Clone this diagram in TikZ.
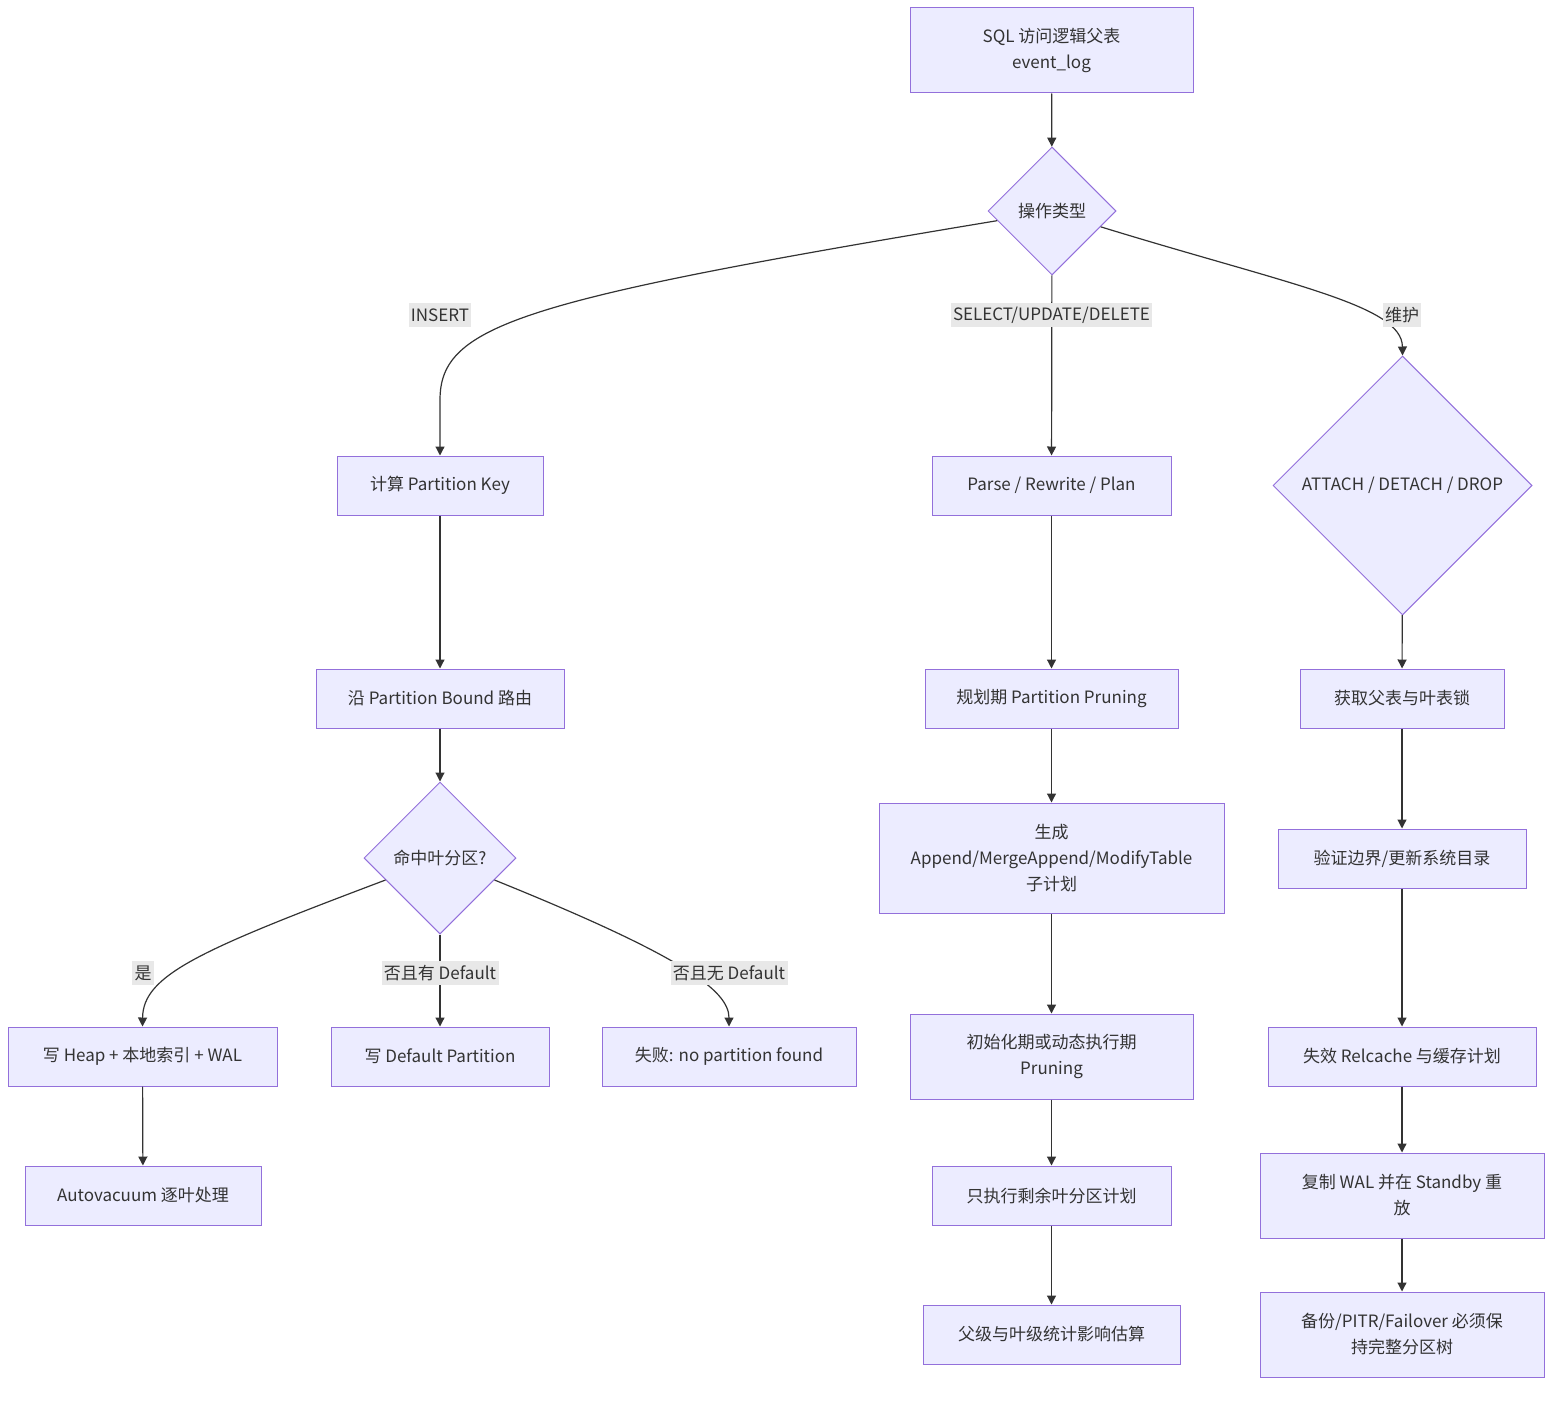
\documentclass[tikz,border=0pt]{standalone}
\usepackage{fontspec}
\setmainfont{Noto Sans CJK SC}
\usetikzlibrary{shapes.geometric,arrows.meta}
\definecolor{nfill}{HTML}{ECECFF}
\definecolor{nstroke}{HTML}{9370DB}
\definecolor{ntext}{HTML}{333333}
\definecolor{lbg}{HTML}{E8E8E8}
\begin{document}
\begin{tikzpicture}[x=0.5pt,y=-0.5pt,
  every node/.style={text=ntext,font=\fontsize{8.5}{13}\selectfont},
  box/.style={draw=nstroke,fill=nfill,line width=0.5pt,rectangle,align=center,inner sep=0pt},
  dia/.style={draw=nstroke,fill=nfill,line width=0.5pt,diamond,align=center,inner sep=0pt},
  lbl/.style={fill=lbg,inner sep=1.2pt,minimum height=12pt},
  edge/.style={draw=ntext,line width=0.6pt,-{Triangle[length=4.5pt,width=4.5pt]}}]
\useasboundingbox (0,0) rectangle (1568,1402);
% nodes
\node[box,minimum width=141.5pt,minimum height=42.5pt] (top) at (1051.5,50.5) {SQL 访问逻辑父表\\event\_log};
\node[dia,minimum width=64pt,minimum height=64pt] (op) at (1052,211) {操作类型};
\node[box,minimum width=103pt,minimum height=29.5pt] (key) at (440,485.5) {计算 Partition Key};
\node[box,minimum width=119.5pt,minimum height=29.5pt] (parse) at (1051.5,485.5) {Parse / Rewrite / Plan};
\node[dia,minimum width=129.5pt,minimum height=129.5pt] (att) at (1402.5,485.5) {ATTACH / DETACH / DROP};
\node[box,minimum width=124pt,minimum height=29.5pt] (route) at (440,698.5) {沿 Partition Bound 路由};
\node[box,minimum width=126.5pt,minimum height=29.5pt] (prune) at (1051.5,698.5) {规划期 Partition Pruning};
\node[box,minimum width=102pt,minimum height=29.5pt] (lock) at (1402,698.5) {获取父表与叶表锁};
\node[dia,minimum width=76pt,minimum height=76pt] (hit) at (440,858) {命中叶分区?};
\node[box,minimum width=172.5pt,minimum height=55pt] (gen) at (1051.5,858) {生成\\Append/MergeAppend/ModifyTable\\子计划};
\node[box,minimum width=124pt,minimum height=29.5pt] (verify) at (1402,858.5) {验证边界/更新系统目录};
\node[box,minimum width=134.5pt,minimum height=29.5pt] (heap) at (142.5,1056.5) {写 Heap + 本地索引 + WAL};
\node[box,minimum width=109pt,minimum height=29.5pt] (defp) at (440,1056.5) {写 Default Partition};
\node[box,minimum width=127pt,minimum height=29.5pt] (fail) at (729,1056.5) {失败: no partition found};
\node[box,minimum width=141.5pt,minimum height=42.5pt] (init) at (1051.5,1056.5) {初始化期或动态执行期\\Pruning};
\node[box,minimum width=134pt,minimum height=29.5pt] (inval) at (1402,1056.5) {失效 Relcache 与缓存计划};
\node[box,minimum width=118pt,minimum height=29.5pt] (vac) at (143,1195.5) {Autovacuum 逐叶处理};
\node[box,minimum width=119.5pt,minimum height=29.5pt] (exec) at (1051.5,1195.5) {只执行剩余叶分区计划};
\node[box,minimum width=142pt,minimum height=42.5pt] (repl) at (1402,1195.5) {复制 WAL 并在 Standby 重\\放};
\node[box,minimum width=128.5pt,minimum height=29.5pt] (stats) at (1051.5,1334.5) {父级与叶级统计影响估算};
\node[box,minimum width=142pt,minimum height=42.5pt] (backup) at (1402,1334.5) {备份/PITR/Failover 必须保\\持完整分区树};
% edges
\path[edge] (top) -- (op);
\path[edge] (op.190) .. controls (520,300) and (440,325) .. (440,400) -- (key.north);
\path[edge] (op) -- (parse);
\path[edge] (op.-18) .. controls (1290,285) and (1402,305) .. (att.north);
\path[edge] (key) -- (route);
\path[edge] (route) -- (hit);
\path[edge] (hit.202) .. controls (200,950) and (143,975) .. (heap.north);
\path[edge] (hit) -- (defp);
\path[edge] (hit.-22) .. controls (680,955) and (729,990) .. (fail.north);
\path[edge] (heap) -- (vac);
\path[edge] (parse) -- (prune);
\path[edge] (prune) -- (gen);
\path[edge] (gen) -- (init);
\path[edge] (init) -- (exec);
\path[edge] (exec) -- (stats);
\path[edge] (att) -- (lock);
\path[edge] (lock) -- (verify);
\path[edge] (verify) -- (inval);
\path[edge] (inval) -- (repl);
\path[edge] (repl) -- (backup);
% labels
\node[lbl] (l1) at (440,315) {INSERT};
\node[lbl] (l2) at (1051.5,315) {SELECT/UPDATE/DELETE};
\node[lbl] (l3) at (1402,315) {维护};
\node[lbl] (l4) at (143,973) {是};
\node[lbl] (l5) at (440,973) {否且有 Default};
\node[lbl] (l6) at (729,973) {否且无 Default};
\end{tikzpicture}
\end{document}
